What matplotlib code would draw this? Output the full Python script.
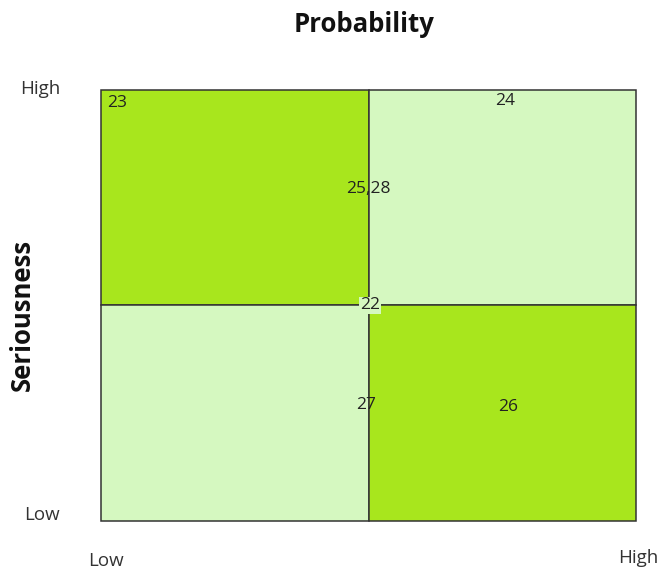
import matplotlib.pyplot as plt
from matplotlib.patches import Rectangle

plt.rcParams['font.family'] = ['Open Sans', 'DejaVu Sans']

# quadrant colours: (col, row) -> shade
quad_x = [0, 1, 0, 1]
quad_y = [1, 1, 0, 0]
quad_dark = [True, False, False, True]

# risk ids placed on the matrix
ids = ['23', '24', '25,28', '22', '27', '26']
id_x = [0.06, 1.51, 1.0, 1.005, 0.99, 1.52]
id_y = [1.94, 1.95, 1.54, 1.0, 0.54, 0.53]

levels = ['Low', 'High']

dark = '#a8e61d'
light = '#d5f8c0'

fig = plt.figure(figsize=(6.62, 5.73), dpi=100)
ax = fig.add_axes([0.1526, 0.0908, 0.8082, 0.7522])

for qx, qy, d in zip(quad_x, quad_y, quad_dark):
    ax.add_patch(Rectangle((qx, qy), 1, 1, facecolor=dark if d else light,
                           edgecolor='#333333', linewidth=1.1, clip_on=False))

for s, x, y in zip(ids, id_x, id_y):
    kw = {}
    if s == '22':
        kw['bbox'] = dict(facecolor=light, edgecolor='none', pad=0.5)
    ax.text(x, y, s, ha='center', va='center', fontsize=12.5, color='#222222', **kw)

ax.set_xlim(0, 2)
ax.set_ylim(0, 2)
for sp in ax.spines.values():
    sp.set_visible(False)
ax.set_xticks([])
ax.set_yticks([])

# axis level labels
lab = dict(ha='center', va='center', fontsize=13.5, color='#333333')
fig.text(106 / 662, 1 - 561 / 573, levels[0], **lab)
fig.text(638 / 662, 1 - 558 / 573, levels[1], **lab)
fig.text(42 / 662, 1 - 515 / 573, levels[0], **lab)
fig.text(40 / 662, 1 - 89 / 573, levels[1], **lab)

fig.text(364 / 662, 1 - 24 / 573, 'Probability', ha='center', va='center',
         fontsize=18.5, fontweight='bold', color='#111111')
fig.text(22 / 662, 1 - 315 / 573, 'Seriousness', ha='center', va='center',
         rotation=90, fontsize=18.5, fontweight='bold', color='#111111')

fig.savefig('out.png', dpi=100, facecolor='white')
